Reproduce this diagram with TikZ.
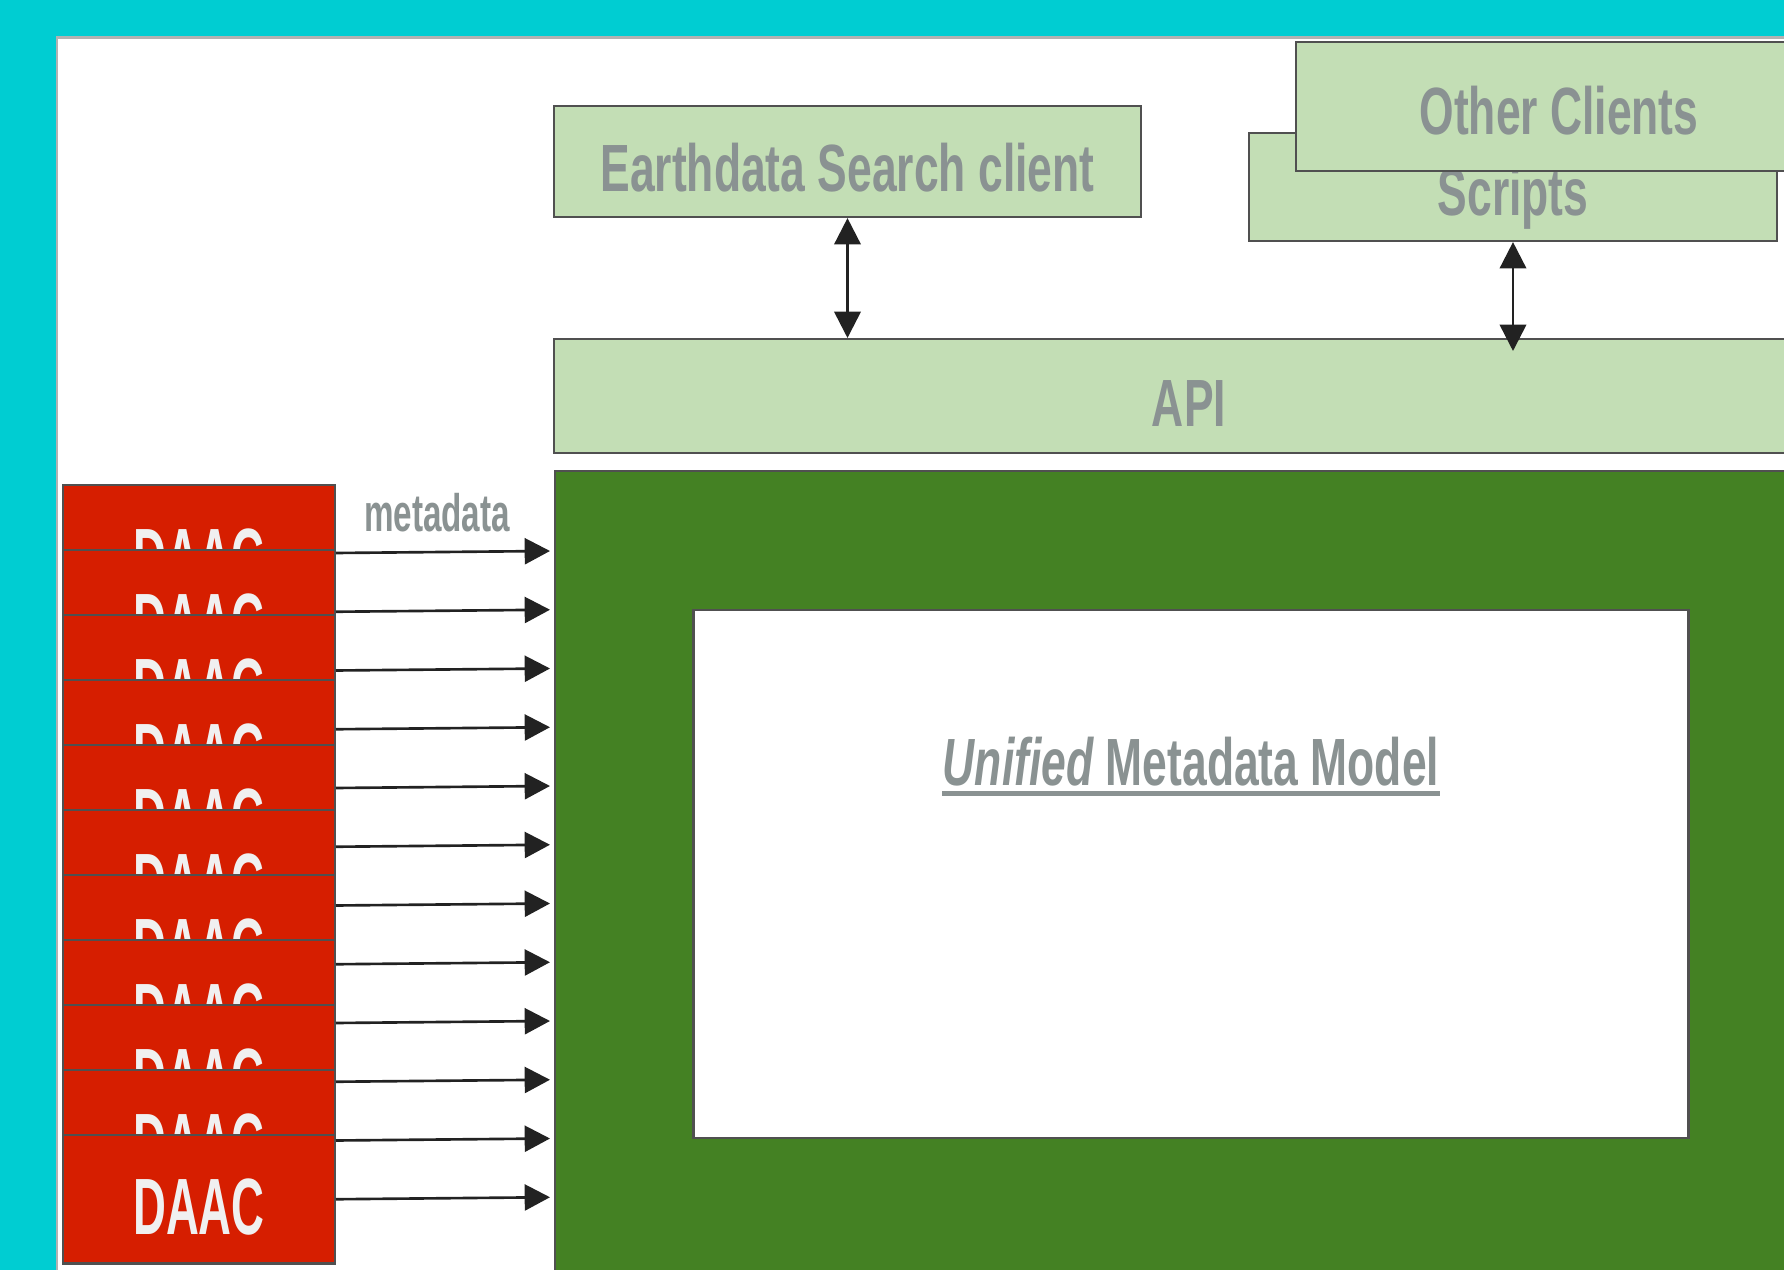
\documentclass[tikz,border=0pt]{standalone}
\usepackage{fontspec}
\usetikzlibrary{arrows.meta}
\newfontfamily\dinfont[FakeStretch=0.665]{Liberation Sans}
\newfontfamily\daacfont[FakeStretch=0.57]{Liberation Sans}
\newfontfamily\metafont[FakeStretch=0.63]{Liberation Sans}
\definecolor{bgcyan}{RGB}{0,205,210}
\definecolor{lgreen}{RGB}{195,222,181}
\definecolor{dgreen}{RGB}{68,129,35}
\definecolor{daacred}{RGB}{214,30,0}
\definecolor{txtgray}{RGB}{138,146,146}
\definecolor{edgec}{RGB}{80,80,80}
\definecolor{arrowc}{RGB}{34,34,34}
\begin{document}
\begin{tikzpicture}[x=0.01cm,y=-0.01cm,
  lgbox/.style={draw=edgec, fill=lgreen, line width=0.6pt, inner sep=0pt},
  dgbox/.style={draw=edgec, fill=dgreen, line width=0.6pt, inner sep=0pt},
  whbox/.style={draw=edgec, fill=white, line width=0.7pt, inner sep=0pt},
  daacbox/.style={draw=edgec, fill=daacred, line width=0.7pt, inner sep=0pt, minimum width=2.72cm, minimum height=1.286cm},
  lbl/.style={inner sep=0pt, text=txtgray, font=\dinfont\bfseries\fontsize{19}{22}\selectfont},
  daactxt/.style={inner sep=0pt, text=white!94!black, font=\daacfont\bfseries\fontsize{22.7}{26}\selectfont},
  metalbl/.style={inner sep=0pt, text=txtgray, font=\metafont\bfseries\fontsize{15}{18}\selectfont},
  arr/.style={draw=arrowc, line width=0.75pt, -{Triangle[length=7.2pt,width=7.4pt]}},
  darr/.style={draw=arrowc, line width=0.75pt, {Triangle[length=7.5pt,width=7.5pt]}-{Triangle[length=7.5pt,width=7.5pt]}}
]
\useasboundingbox (0,0) rectangle (1784,1270);
\clip (0,0) rectangle (1784,1270);
\fill[bgcyan] (0,0) rectangle (1784,1270);
\draw[fill=white, draw=gray!60, line width=0.6pt] (57,37.5) rectangle (1850,1320);

% clients
\node[lgbox, minimum width=5.87cm, minimum height=1.11cm] (ed) at (847.5,161.5) {};
\node[lbl, anchor=base] (edt) at (847.5,192) {Earthdata Search client};
\node[lgbox, minimum width=5.28cm, minimum height=1.08cm] (sc) at (1513,187) {};
\node[lbl, anchor=base] (sct) at (1513,216) {Scripts};
\node[lgbox, minimum width=5.26cm, minimum height=1.29cm] (oc) at (1559,106.5) {};
\node[lbl, anchor=base] (oct) at (1559,135) {Other Clients};

% API
\node[lgbox, minimum width=12.70cm, minimum height=1.14cm] (api) at (1189,396) {};
\node[lbl, anchor=base] (apit) at (1189,427) {API};

\coordinate (edapi) at (847.5,338);
\coordinate (scapi) at (1513,351);
\draw[darr] (ed.south) -- (edapi);
\draw[darr] (sc.south) -- (scapi);

% CMR
\node[dgbox, minimum width=12.69cm, minimum height=8.29cm] (grn) at (1189.5,885.5) {};
\node[whbox, minimum width=9.94cm, minimum height=5.28cm] (umm) at (1191,874) {};
\node[lbl, anchor=base] (ummt) at (1191,785) {{\itshape Unified} Metadata Model};
\draw[txtgray, line width=1.2pt] ([yshift=-2.4pt]ummt.base west) -- ([yshift=-2.4pt]ummt.base east);

% DAACs
\foreach \i in {0,...,10} {
  \pgfmathsetmacro\ty{485+65*\i}
  \node[daacbox] (d\i) at (199,\ty+64.3) {};
  \node[daactxt, anchor=base] (dt\i) at (199,\ty+99.5) {DAAC};
}
\foreach \j in {0,...,11} {
  \pgfmathsetmacro\ay{551+58.75*\j}
  \coordinate (as\j) at (336,\ay+2);
  \coordinate (ae\j) at (550,\ay);
  \draw[arr] (as\j) -- (ae\j);
}
\node[metalbl, anchor=base] (md) at (437,532) {metadata};
\end{tikzpicture}
\end{document}
